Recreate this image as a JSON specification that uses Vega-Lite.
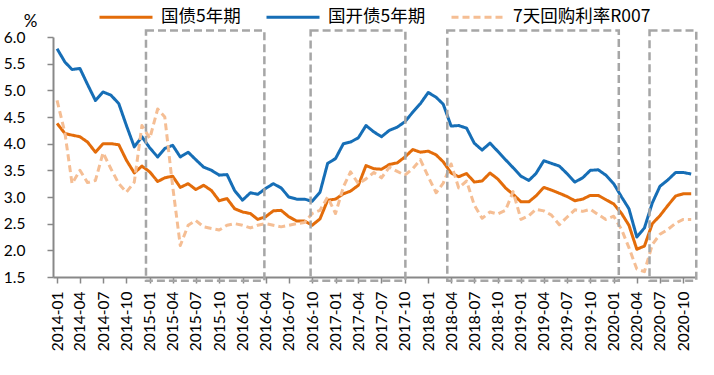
{
  "$schema": "https://vega.github.io/schema/vega-lite/v6.json",
  "width": 642,
  "height": 240,
  "autosize": {"type": "none"},
  "padding": {"left": 53, "top": 37, "right": 19, "bottom": 98},
  "background": "white",
  "config": {
    "view": {"stroke": null},
    "font": "Lato",
    "axisY": {
      "labelOverlap": false,
      "labelFlush": false,
      "tickCount": 10,
      "format": ".1f",
      "labelFontSize": 15.5,
      "labelColor": "#000000",
      "labelPadding": 22,
      "tickSize": 6,
      "tickColor": "#888888",
      "tickWidth": 1.5,
      "domainColor": "#888888",
      "domainWidth": 2,
      "grid": false,
      "titleAngle": 0,
      "titleX": -23,
      "titleY": -16,
      "titleAlign": "center",
      "titleBaseline": "middle",
      "titleFontSize": 17,
      "titleFontWeight": "normal",
      "titleColor": "#000000"
    },
    "axisX": {
      "format": "%Y-%m",
      "labelAngle": 270,
      "labelFontSize": 15.5,
      "labelColor": "#000000",
      "labelPadding": 8,
      "labelOverlap": false,
      "labelFlush": false,
      "tickSize": 6,
      "tickColor": "#888888",
      "tickWidth": 1.5,
      "domainColor": "#888888",
      "domainWidth": 2,
      "grid": false
    }
  },
  "layer": [
    {
      "data": {
        "values": [
          {"month": "2014-01", "gz": 4.38, "cdb": 5.78, "r007": 4.81},
          {"month": "2014-02", "gz": 4.19, "cdb": 5.53, "r007": 4.2},
          {"month": "2014-03", "gz": 4.16, "cdb": 5.39, "r007": 3.25},
          {"month": "2014-04", "gz": 4.13, "cdb": 5.41, "r007": 3.5},
          {"month": "2014-05", "gz": 4.03, "cdb": 5.11, "r007": 3.27},
          {"month": "2014-06", "gz": 3.84, "cdb": 4.81, "r007": 3.31},
          {"month": "2014-07", "gz": 4.0, "cdb": 4.97, "r007": 3.83},
          {"month": "2014-08", "gz": 4.0, "cdb": 4.91, "r007": 3.53},
          {"month": "2014-09", "gz": 3.98, "cdb": 4.75, "r007": 3.25},
          {"month": "2014-10", "gz": 3.69, "cdb": 4.34, "r007": 3.09},
          {"month": "2014-11", "gz": 3.45, "cdb": 3.94, "r007": 3.28},
          {"month": "2014-12", "gz": 3.58, "cdb": 4.13, "r007": 4.34},
          {"month": "2015-01", "gz": 3.47, "cdb": 3.92, "r007": 4.1},
          {"month": "2015-02", "gz": 3.29, "cdb": 3.75, "r007": 4.65},
          {"month": "2015-03", "gz": 3.36, "cdb": 3.91, "r007": 4.5},
          {"month": "2015-04", "gz": 3.39, "cdb": 3.97, "r007": 3.2},
          {"month": "2015-05", "gz": 3.18, "cdb": 3.75, "r007": 2.09},
          {"month": "2015-06", "gz": 3.25, "cdb": 3.84, "r007": 2.47},
          {"month": "2015-07", "gz": 3.14, "cdb": 3.7, "r007": 2.56},
          {"month": "2015-08", "gz": 3.22, "cdb": 3.56, "r007": 2.44},
          {"month": "2015-09", "gz": 3.12, "cdb": 3.5, "r007": 2.41},
          {"month": "2015-10", "gz": 2.93, "cdb": 3.41, "r007": 2.38},
          {"month": "2015-11", "gz": 2.97, "cdb": 3.42, "r007": 2.47},
          {"month": "2015-12", "gz": 2.78, "cdb": 3.12, "r007": 2.5},
          {"month": "2016-01", "gz": 2.72, "cdb": 2.94, "r007": 2.47},
          {"month": "2016-02", "gz": 2.69, "cdb": 3.08, "r007": 2.42},
          {"month": "2016-03", "gz": 2.58, "cdb": 3.05, "r007": 2.47},
          {"month": "2016-04", "gz": 2.63, "cdb": 3.16, "r007": 2.5},
          {"month": "2016-05", "gz": 2.74, "cdb": 3.25, "r007": 2.47},
          {"month": "2016-06", "gz": 2.75, "cdb": 3.17, "r007": 2.44},
          {"month": "2016-07", "gz": 2.63, "cdb": 3.0, "r007": 2.47},
          {"month": "2016-08", "gz": 2.55, "cdb": 2.96, "r007": 2.5},
          {"month": "2016-09", "gz": 2.55, "cdb": 2.96, "r007": 2.52},
          {"month": "2016-10", "gz": 2.47, "cdb": 2.92, "r007": 2.69},
          {"month": "2016-11", "gz": 2.59, "cdb": 3.09, "r007": 2.75},
          {"month": "2016-12", "gz": 2.94, "cdb": 3.63, "r007": 3.0},
          {"month": "2017-01", "gz": 2.96, "cdb": 3.72, "r007": 2.69},
          {"month": "2017-02", "gz": 3.06, "cdb": 4.0, "r007": 3.19},
          {"month": "2017-03", "gz": 3.11, "cdb": 4.03, "r007": 3.47},
          {"month": "2017-04", "gz": 3.22, "cdb": 4.11, "r007": 3.25},
          {"month": "2017-05", "gz": 3.59, "cdb": 4.34, "r007": 3.34},
          {"month": "2017-06", "gz": 3.53, "cdb": 4.22, "r007": 3.46},
          {"month": "2017-07", "gz": 3.52, "cdb": 4.13, "r007": 3.36},
          {"month": "2017-08", "gz": 3.61, "cdb": 4.25, "r007": 3.56},
          {"month": "2017-09", "gz": 3.64, "cdb": 4.31, "r007": 3.48},
          {"month": "2017-10", "gz": 3.75, "cdb": 4.41, "r007": 3.41},
          {"month": "2017-11", "gz": 3.89, "cdb": 4.59, "r007": 3.53},
          {"month": "2017-12", "gz": 3.84, "cdb": 4.75, "r007": 3.7},
          {"month": "2018-01", "gz": 3.86, "cdb": 4.96, "r007": 3.38},
          {"month": "2018-02", "gz": 3.79, "cdb": 4.87, "r007": 3.08},
          {"month": "2018-03", "gz": 3.66, "cdb": 4.74, "r007": 3.26},
          {"month": "2018-04", "gz": 3.45, "cdb": 4.33, "r007": 3.62},
          {"month": "2018-05", "gz": 3.38, "cdb": 4.34, "r007": 3.17},
          {"month": "2018-06", "gz": 3.44, "cdb": 4.29, "r007": 3.3},
          {"month": "2018-07", "gz": 3.28, "cdb": 4.01, "r007": 2.85},
          {"month": "2018-08", "gz": 3.3, "cdb": 3.88, "r007": 2.6},
          {"month": "2018-09", "gz": 3.45, "cdb": 4.01, "r007": 2.72},
          {"month": "2018-10", "gz": 3.34, "cdb": 3.86, "r007": 2.68},
          {"month": "2018-11", "gz": 3.17, "cdb": 3.7, "r007": 2.75},
          {"month": "2018-12", "gz": 3.05, "cdb": 3.55, "r007": 3.1},
          {"month": "2019-01", "gz": 2.91, "cdb": 3.39, "r007": 2.58},
          {"month": "2019-02", "gz": 2.91, "cdb": 3.31, "r007": 2.65},
          {"month": "2019-03", "gz": 3.02, "cdb": 3.44, "r007": 2.77},
          {"month": "2019-04", "gz": 3.18, "cdb": 3.68, "r007": 2.74},
          {"month": "2019-05", "gz": 3.13, "cdb": 3.63, "r007": 2.66},
          {"month": "2019-06", "gz": 3.07, "cdb": 3.58, "r007": 2.48},
          {"month": "2019-07", "gz": 3.01, "cdb": 3.44, "r007": 2.62},
          {"month": "2019-08", "gz": 2.93, "cdb": 3.28, "r007": 2.76},
          {"month": "2019-09", "gz": 2.96, "cdb": 3.36, "r007": 2.73},
          {"month": "2019-10", "gz": 3.03, "cdb": 3.5, "r007": 2.77},
          {"month": "2019-11", "gz": 3.03, "cdb": 3.51, "r007": 2.67},
          {"month": "2019-12", "gz": 2.95, "cdb": 3.41, "r007": 2.58},
          {"month": "2020-01", "gz": 2.87, "cdb": 3.25, "r007": 2.64},
          {"month": "2020-02", "gz": 2.69, "cdb": 3.0, "r007": 2.39},
          {"month": "2020-03", "gz": 2.47, "cdb": 2.78, "r007": 2.05},
          {"month": "2020-04", "gz": 2.02, "cdb": 2.25, "r007": 1.65},
          {"month": "2020-05", "gz": 2.08, "cdb": 2.42, "r007": 1.6},
          {"month": "2020-06", "gz": 2.5, "cdb": 2.89, "r007": 2.11},
          {"month": "2020-07", "gz": 2.65, "cdb": 3.2, "r007": 2.3},
          {"month": "2020-08", "gz": 2.84, "cdb": 3.32, "r007": 2.39},
          {"month": "2020-09", "gz": 3.02, "cdb": 3.46, "r007": 2.51},
          {"month": "2020-10", "gz": 3.06, "cdb": 3.46, "r007": 2.58},
          {"month": "2020-11", "gz": 3.06, "cdb": 3.43, "r007": 2.58}
        ],
        "format": {"parse": {"month": "date:'%Y-%m'"}}
      },
      "transform": [{"fold": ["gz", "cdb", "r007"], "as": ["series", "value"]}],
      "mark": {"type": "line", "strokeWidth": 3, "strokeJoin": "round"},
      "encoding": {
        "x": {
          "field": "month",
          "type": "temporal",
          "title": null,
          "scale": {"domain": [{"year": 2013, "month": 12, "date": 16}, {"year": 2020, "month": 11, "date": 16}]},
          "axis": {"tickCount": {"interval": "month", "step": 3}}
        },
        "y": {
          "field": "value",
          "type": "quantitative",
          "title": "%",
          "scale": {"domain": [1.5, 6], "nice": false, "zero": false},
          "axis": {"values": [1.5, 2, 2.5, 3, 3.5, 4, 4.5, 5, 5.5, 6], "labelOverlap": false}
        },
        "color": {
          "field": "series",
          "type": "nominal",
          "scale": {"domain": ["gz", "cdb", "r007"], "range": ["#E36C0A", "#166EB6", "#F5BE94"]},
          "legend": {
            "orient": "none",
            "legendX": 45,
            "legendY": -48,
            "direction": "horizontal",
            "title": null,
            "padding": 0,
            "symbolType": "stroke",
            "symbolSize": 2809,
            "symbolStrokeWidth": 3,
            "labelFont": "Noto Sans CJK SC",
            "labelFontSize": 17.5,
            "labelColor": "#000000",
            "labelOffset": 7,
            "columnPadding": 19,
            "labelLimit": 300,
            "labelExpr": "datum.label == 'gz' ? '国债5年期' : datum.label == 'cdb' ? '国开债5年期' : '7天回购利率R007'"
          }
        },
        "strokeDash": {
          "field": "series",
          "type": "nominal",
          "scale": {"domain": ["gz", "cdb", "r007"], "range": [[1, 0], [1, 0], [7, 4]]},
          "legend": null
        }
      }
    },
    {
      "data": {
        "values": [
          {"start": "2014-12-17", "end": "2016-03-27"},
          {"start": "2016-09-25", "end": "2017-10-03"},
          {"start": "2018-03-17", "end": "2020-01-21"},
          {"start": "2020-05-21", "end": "2020-11-21"}
        ],
        "format": {"parse": {"start": "date:'%Y-%m-%d'", "end": "date:'%Y-%m-%d'"}}
      },
      "mark": {"type": "rect", "filled": false, "color": "#A6A6A6", "strokeWidth": 2.5, "strokeDash": [8, 4]},
      "encoding": {
        "x": {"field": "start", "type": "temporal"},
        "x2": {"field": "end"},
        "y": {"datum": 6.12, "type": "quantitative"},
        "y2": {"datum": 1.43}
      }
    }
  ]
}
